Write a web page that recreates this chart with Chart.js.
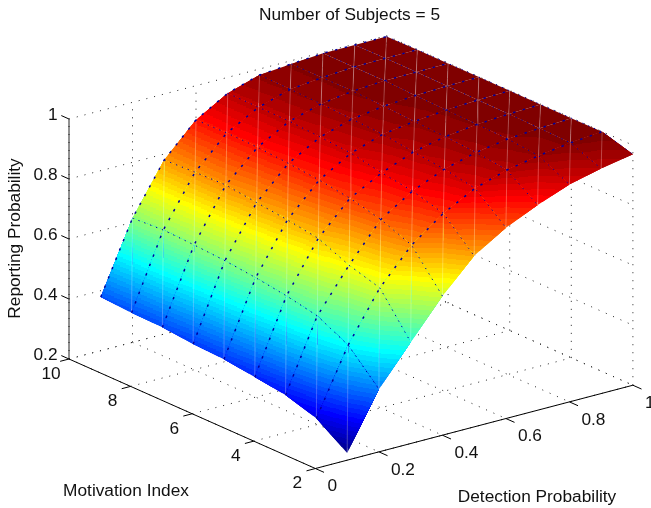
<!DOCTYPE html>
<html>
<head>
<meta charset="utf-8">
<title>Number of Subjects = 5</title>
<script src="https://cdn.jsdelivr.net/npm/chart.js@4/dist/chart.umd.js"></script>
<style>
  html, body { margin: 0; padding: 0; background: #fff; }
  canvas { display: block; }
</style>
</head>
<body>
<canvas id="myChart" width="651" height="508"></canvas>
<script>
// values
const detection = [0.1, 0.2, 0.3, 0.4, 0.5, 0.6, 0.7, 0.8, 0.9, 1]
const motivation = [2, 3, 4, 5, 6, 7, 8, 9, 10]

const reportM2 = [0.224, 0.409, 0.538, 0.664, 0.770, 0.836, 0.884, 0.925, 0.950, 0.970]
const reportM3 = [0.294, 0.510, 0.673, 0.788, 0.866, 0.922, 0.955, 0.975, 0.990, 0.999]
const reportM4 = [0.326, 0.562, 0.703, 0.828, 0.895, 0.940, 0.968, 0.985, 0.993, 0.999]
const reportM5 = [0.340, 0.583, 0.747, 0.853, 0.910, 0.952, 0.975, 0.988, 0.995, 0.999]
const reportM6 = [0.354, 0.598, 0.763, 0.868, 0.930, 0.965, 0.980, 0.990, 0.996, 0.999]
const reportM7 = [0.359, 0.609, 0.775, 0.878, 0.938, 0.970, 0.985, 0.993, 0.997, 0.999]
const reportM8 = [0.369, 0.616, 0.788, 0.886, 0.945, 0.975, 0.990, 0.997, 0.998, 0.999]
const reportM9 = [0.372, 0.620, 0.785, 0.888, 0.946, 0.978, 0.989, 0.997, 0.998, 0.999]
const reportM10 = [0.379, 0.614, 0.780, 0.886, 0.947, 0.980, 0.989, 0.997, 0.997, 0.997]
const surface = [reportM2, reportM3, reportM4, reportM5, reportM6, reportM7, reportM8, reportM9, reportM10]

const detectionTicks = ['0', '0.2', '0.4', '0.6', '0.8', '1']
const motivationTicks = ['2', '4', '6', '8', '10']
const reportTicks = ['0.2', '0.4', '0.6', '0.8', '1']

const FONT = '17.3px "Liberation Sans", Arial, sans-serif'

// 3d view -> plot units of the two hidden linear scales
function project(d, m, z) {
  return {
    x: 69 + (10 - m) * 30.8 + d * 317.5,
    y: 359 + (10 - m) * 13.69 - d * 83.3 - (z - 0.2) * 300
  }
}

function jet(i) {
  const t = (i + 1) / 64
  const c = v => Math.round(255 * Math.max(0, Math.min(1, v)))
  const r = c(Math.min(4 * t - 1.5, -4 * t + 4.5))
  const g = c(Math.min(4 * t - 0.5, -4 * t + 3.5))
  const b = c(Math.min(4 * t + 0.5, -4 * t + 2.5))
  return `rgb(${r},${g},${b})`
}

const zMin = Math.min(...surface.flat())
const zMax = Math.max(...surface.flat())

function lineSet(label, pts, style) {
  return Object.assign({
    label: label,
    data: pts,
    showLine: true,
    pointRadius: 0,
    borderWidth: 1,
    borderColor: '#000',
    tension: 0,
    order: 2
  }, style)
}

const datasets = []
const dot = { borderDash: [1, 7], borderColor: '#222' }
const mNum = motivationTicks.map(Number)
const dNum = detectionTicks.map(Number)
const zNum = reportTicks.map(Number)

// dotted box grid: floor and the two back walls
mNum.forEach(m => datasets.push(lineSet('floor m' + m, [project(0, m, 0.2), project(1, m, 0.2)], dot)))
dNum.forEach(d => datasets.push(lineSet('floor d' + d, [project(d, 10, 0.2), project(d, 2, 0.2)], dot)))
zNum.forEach(z => {
  datasets.push(lineSet('wall z' + z, [project(0, 10, z), project(1, 10, z)], dot))
  datasets.push(lineSet('side z' + z, [project(1, 10, z), project(1, 2, z)], dot))
})
dNum.forEach(d => datasets.push(lineSet('wall d' + d, [project(d, 10, 0.2), project(d, 10, 1)], dot)))
mNum.forEach(m => datasets.push(lineSet('side m' + m, [project(1, m, 0.2), project(1, m, 1)], dot)))

// solid axes and tick marks
datasets.push(lineSet('axis z', [project(0, 10, 0.2), project(0, 10, 1)], { order: 0, borderColor: '#222' }))
datasets.push(lineSet('axis m', [project(0, 10, 0.2), project(0, 2, 0.2)], { order: 0 }))
datasets.push(lineSet('axis d', [project(0, 2, 0.2), project(1, 2, 0.2)], { order: 0 }))
mNum.forEach(m => datasets.push(lineSet('tick m' + m, [project(0, m, 0.2), project(-0.028, m, 0.2)], { order: 0 })))
dNum.forEach(d => datasets.push(lineSet('tick d' + d, [project(d, 2, 0.2), project(d, 1.72, 0.2)], { order: 0 })))
zNum.forEach(z => datasets.push(lineSet('tick z' + z, [project(0, 10, z), project(0, 10.25, z)], { order: 0 })))

// the surface itself is filled by the plugin below, hooked on this dataset
datasets.push(lineSet('surface', [], { order: 1 }))

// light seams down the cell diagonals
const seam = { order: 0.6, borderColor: 'rgba(255,255,255,0.26)', borderWidth: 1 }
for (let k = -detection.length + 2; k < motivation.length - 1; k++) {
  const pts = []
  detection.forEach((d, i) => {
    const j = i + k
    if (j >= 0 && j < motivation.length) pts.push(project(d, motivation[j], surface[j][i]))
  })
  if (pts.length > 1) datasets.push(lineSet('seam ' + k, pts, seam))
}

// blue mesh lines, the ones along detection come out heavier
const meshM = { order: 0.2, borderColor: '#00009c', borderWidth: 1.5, borderDash: [2.4, 7.6] }
const meshD = { order: 0.2, borderColor: '#0000a0', borderWidth: 1, borderDash: [1.3, 5] }
motivation.forEach((m, j) => {
  if (j === 0) return
  datasets.push(lineSet('mesh m' + m, detection.map((d, i) => project(d, m, surface[j][i])), meshM))
})
detection.forEach((d, i) => {
  if (i === 0) return
  datasets.push(lineSet('mesh d' + d, motivation.map((m, j) => project(d, m, surface[j][i])).reverse(), meshD))
})

// one triangle of the surface, 3px columns give the stepped colour bands
function fillTriangle(ctx, sx, sy, tri) {
  const pts = tri.map(p => ({ x: sx.getPixelForValue(p.x), y: sy.getPixelForValue(p.y), z: p.z }))
  const [p0, p1, p2] = pts
  const det = (p1.x - p0.x) * (p2.y - p0.y) - (p2.x - p0.x) * (p1.y - p0.y)
  if (Math.abs(det) < 1e-6) return
  const a = ((p1.z - p0.z) * (p2.y - p0.y) - (p2.z - p0.z) * (p1.y - p0.y)) / det
  const b = ((p2.z - p0.z) * (p1.x - p0.x) - (p1.z - p0.z) * (p2.x - p0.x)) / det
  const step = (zMax - zMin) / 64
  const bandOf = z => Math.max(0, Math.min(63, Math.floor((z - zMin) / step)))
  const xs = pts.map(p => p.x)
  const ys = pts.map(p => p.y)
  const top = Math.floor(Math.min(...ys))
  const bottom = Math.ceil(Math.max(...ys))
  const w = 3

  ctx.save()
  ctx.beginPath()
  pts.forEach((p, n) => (n === 0 ? ctx.moveTo(p.x, p.y) : ctx.lineTo(p.x, p.y)))
  ctx.closePath()
  ctx.clip()
  for (let x = Math.floor(Math.min(...xs) / w) * w; x < Math.max(...xs); x += w) {
    const xc = x + w / 2
    const zAt = y => p0.z + a * (xc - p0.x) + b * (y - p0.y)
    const zTop = zAt(top)
    const zBottom = zAt(bottom)
    const k0 = bandOf(Math.min(zTop, zBottom))
    const k1 = bandOf(Math.max(zTop, zBottom))
    ctx.fillStyle = jet(k0)
    ctx.fillRect(x, top, w, bottom - top)
    for (let k = k0 + 1; k <= k1; k++) {
      // row where this band begins, then everything on the higher side of it
      const level = zMin + k * step
      const yEdge = Math.round(p0.y + (level - p0.z - a * (xc - p0.x)) / b)
      ctx.fillStyle = jet(k)
      if (zTop > zBottom) ctx.fillRect(x, top, w, yEdge - top)
      else ctx.fillRect(x, yEdge, w, bottom - yEdge)
    }
  }
  ctx.restore()
}

const surfacePlugin = {
  id: 'surfacePlugin',
  beforeDatasetDraw(chart, args) {
    if (args.meta.label !== 'surface') return
    const ctx = chart.ctx
    const sx = chart.scales.x
    const sy = chart.scales.y
    const vert = (i, j) => {
      const p = project(detection[i], motivation[j], surface[j][i])
      return { x: p.x, y: p.y, z: surface[j][i] }
    }
    // back to front
    for (let i = detection.length - 2; i >= 0; i--) {
      for (let j = motivation.length - 2; j >= 0; j--) {
        const a = vert(i, j)
        const b = vert(i + 1, j)
        const c = vert(i + 1, j + 1)
        const e = vert(i, j + 1)
        fillTriangle(ctx, sx, sy, [a, c, b])
        fillTriangle(ctx, sx, sy, [a, c, e])
      }
    }
  }
}

const textPlugin = {
  id: 'textPlugin',
  afterDraw(chart) {
    const ctx = chart.ctx
    const sx = chart.scales.x
    const sy = chart.scales.y
    const put = (txt, x, y, align) => {
      ctx.textAlign = align
      ctx.fillText(txt, x, y)
    }
    ctx.save()
    ctx.font = FONT
    ctx.fillStyle = '#111'
    ctx.textBaseline = 'middle'
    reportTicks.forEach(t => {
      const p = project(0, 10, Number(t))
      put(t, 57.5, sy.getPixelForValue(p.y) - 4, 'right')
    })
    motivationTicks.forEach(t => {
      const p = project(0, Number(t), 0.2)
      put(t, sx.getPixelForValue(p.x) - 18, sy.getPixelForValue(p.y) + 15, 'center')
    })
    detectionTicks.forEach(t => {
      const p = project(Number(t), 2, 0.2)
      put(t, sx.getPixelForValue(p.x) + 12, sy.getPixelForValue(p.y) + 18, 'left')
    })
    put('Number of Subjects = 5', 349.5, 15, 'center')
    put('Motivation Index', 126, 491, 'center')
    put('Detection Probability', 537, 497, 'center')
    ctx.translate(15, 238.5)
    ctx.rotate(-Math.PI / 2)
    put('Reporting Probability', 0, 0, 'center')
    ctx.restore()
  }
}

const ctx = document.getElementById('myChart')
new Chart(ctx, {
  type: 'scatter',
  data: { datasets: datasets },
  options: {
    responsive: false,
    animation: false,
    layout: { padding: 0 },
    scales: {
      x: { type: 'linear', min: 0, max: 651, display: false },
      y: { type: 'linear', min: 0, max: 508, reverse: true, display: false }
    },
    plugins: {
      legend: { display: false },
      title: { display: false },
      tooltip: { enabled: false }
    }
  },
  plugins: [surfacePlugin, textPlugin]
})
</script>
</body>
</html>
